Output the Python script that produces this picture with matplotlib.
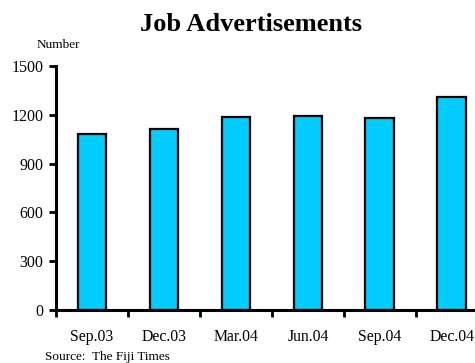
import numpy as np
import matplotlib.pyplot as plt
from matplotlib.ticker import FixedLocator

plt.rcParams['font.family'] = ['Liberation Serif', 'DejaVu Serif']

quarters = ['Sep.03', 'Dec.03', 'Mar.04', 'Jun.04', 'Sep.04', 'Dec.04']
adverts = [1082, 1110, 1184, 1192, 1178, 1307]
y_ticks = [0, 300, 600, 900, 1200, 1500]

fig = plt.figure(figsize=(4.75, 3.63), dpi=100)
# axes run past the right edge on purpose, last category half cut off
ax = fig.add_axes([0.118, 0.146, 0.909, 0.672])

x = np.arange(len(quarters))
ax.bar(x, adverts, width=0.4, color='#00CCFF', edgecolor='black', linewidth=1.6, zorder=3)

ax.set_xlim(-0.5, len(quarters) - 0.5)
ax.set_ylim(0, 1500)
ax.set_yticks(y_ticks)
ax.set_yticklabels([str(v) for v in y_ticks], fontsize=11.5)

ax.set_xticks(x)
ax.set_xticklabels(quarters, fontsize=11.3)
ax.xaxis.set_minor_locator(FixedLocator(np.arange(-0.5, len(quarters), 1.0)))
ax.tick_params(axis='x', which='major', length=0, pad=14)
ax.tick_params(axis='x', which='minor', length=5, width=2, direction='out')
ax.tick_params(axis='y', length=5, width=2, direction='out', pad=4)

for side in ['top', 'right']:
    ax.spines[side].set_visible(False)
for side in ['left', 'bottom']:
    ax.spines[side].set_linewidth(2.2)
    ax.spines[side].set_zorder(4)

fig.text(0.528, 0.932, 'Job Advertisements', ha='center', va='center',
         fontsize=19, fontweight='bold')
fig.text(0.078, 0.876, 'Number', ha='left', va='center', fontsize=9.5)
fig.text(0.095, 0.017, 'Source:  The Fiji Times', ha='left', va='center', fontsize=9.5)

fig.savefig('out.png', dpi=100)
